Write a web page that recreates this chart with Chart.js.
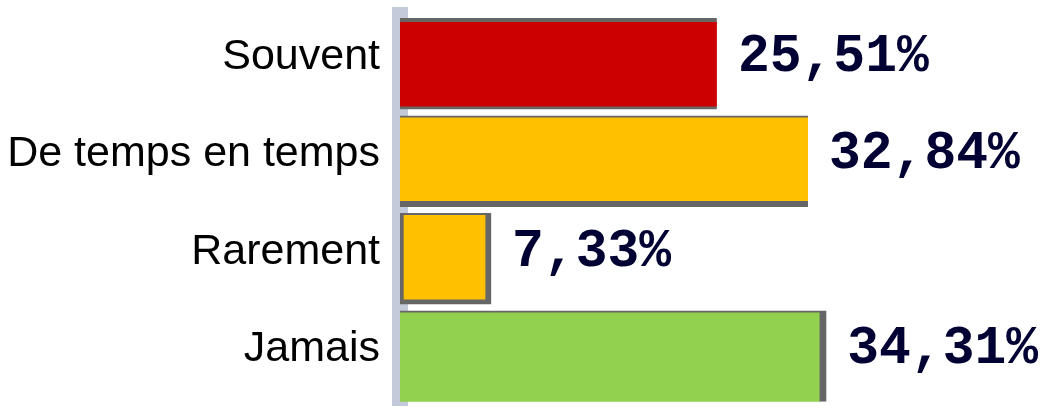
<!DOCTYPE html>
<html>
<head>
<meta charset="utf-8">
<script src="https://cdn.jsdelivr.net/npm/chart.js@4"></script>
<style>
  html, body { margin: 0; padding: 0; background: #fff; }
  #wrap { width: 1056px; height: 409px; position: relative; }
</style>
</head>
<body>
<div id="wrap"><canvas id="chart"></canvas></div>
<script>
// Data
const categories = ['Souvent', 'De temps en temps', 'Rarement', 'Jamais'];
const values = [25.51, 32.84, 7.33, 34.31];
const valueLabels = ['25,51%', '32,84%', '7,33%', '34,31%'];

const barColors = ['#cc0000', '#ffc000', '#ffc000', '#92d050'];
// grey edges that show around each bar in the original
const barEdges = [
    { top: 4, bottom: 3, left: 0, right: 0 },
    { top: 2, bottom: 6, left: 0, right: 0 },
    { top: 2, bottom: 5, left: 4, right: 6 },
    { top: 2, bottom: 0, left: 0, right: 7 }
];

// Draw the percentage next to each bar
const valueLabelPlugin = {
    id: 'valueLabels',
    afterDatasetsDraw(chart) {
        const ctx = chart.ctx;
        const meta = chart.getDatasetMeta(0);
        ctx.save();
        ctx.font = 'bold 53px "Liberation Mono", "Courier New", monospace';
        ctx.fillStyle = '#000033';
        ctx.textAlign = 'left';
        ctx.textBaseline = 'alphabetic';
        meta.data.forEach((bar, i) => {
            ctx.fillText(valueLabels[i], bar.x + 21, bar.y + 7);
        });
        ctx.restore();
    }
};

new Chart(document.getElementById('chart'), {
    type: 'bar',
    data: {
        labels: categories,
        datasets: [{
            data: values,
            backgroundColor: barColors,
            borderColor: '#666666',
            borderWidth: barEdges,
            borderSkipped: false,
            barThickness: 91
        }]
    },
    options: {
        indexAxis: 'y',
        responsive: true,
        maintainAspectRatio: false,
        animation: false,
        layout: {
            padding: { top: 15, bottom: 4, right: 10, left: 0 }
        },
        scales: {
            x: {
                display: false,
                min: 0,
                max: 52
            },
            y: {
                afterFit(scale) {
                    scale.width = 400;
                },
                grid: { display: false, drawTicks: true, tickLength: 20 },
                border: { display: true, color: '#c3cad9', width: 16 },
                ticks: {
                    padding: 0,
                    labelOffset: -7,
                    color: '#000000',
                    font: { family: '"Liberation Sans", Arial, sans-serif', size: 43, lineHeight: 0.15 }
                }
            }
        },
        plugins: {
            legend: { display: false },
            tooltip: { enabled: false }
        }
    },
    plugins: [valueLabelPlugin]
});
</script>
</body>
</html>
